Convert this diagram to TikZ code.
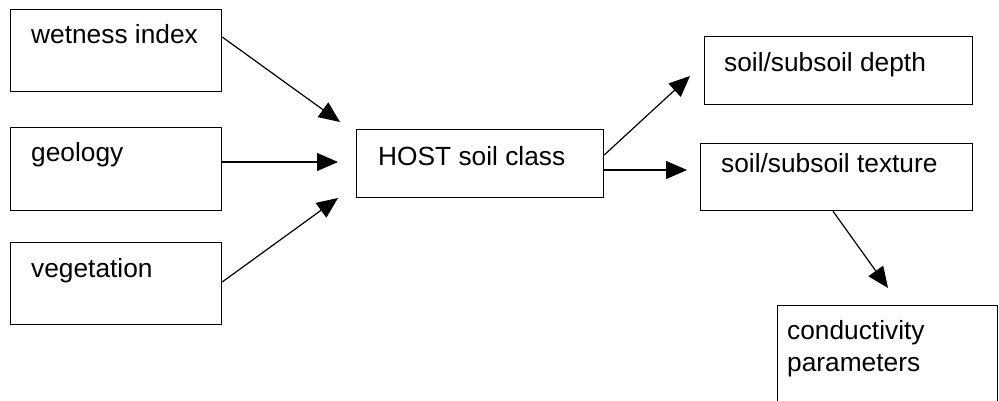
\documentclass[tikz,border=0pt]{standalone}
\usepackage{fontspec}
\setmainfont{Liberation Sans}
\usetikzlibrary{arrows.meta,calc}
\begin{document}
\begin{tikzpicture}[x=1pt,y=-1pt,
  box/.style={draw=black,line width=1.2pt,fill=none,inner sep=0pt,anchor=north west},
  lbl/.style={inner sep=0pt,anchor=base west,font=\fontsize{26.3}{30}\selectfont},
  conn/.style={line width=1.2pt,-{Triangle[length=21pt,width=18pt]}}]
\useasboundingbox (0,0) rectangle (999,401);
% boxes
\node[box,minimum width=211pt,minimum height=82pt] (w) at (10,9) {};
\node[box,minimum width=211pt,minimum height=83pt] (g) at (10,127) {};
\node[box,minimum width=211pt,minimum height=82pt] (v) at (10,242) {};
\node[box,minimum width=247pt,minimum height=68pt] (h) at (356,129) {};
\node[box,minimum width=268pt,minimum height=68pt] (d) at (704,36) {};
\node[box,minimum width=272pt,minimum height=67pt] (t) at (700,143) {};
\node[box,minimum width=220pt,minimum height=110pt] (c) at (777,305) {};
% labels
\node[lbl] (wl) at (31,44) {wetness index};
\node[lbl] (gl) at (31,162) {geology};
\node[lbl] (vl) at (31,277) {vegetation};
\node[lbl] (hl) at (378,165) {HOST soil class};
\node[lbl] (dl) at (724,72) {soil/subsoil depth};
\node[lbl] (tl) at (721,172) {soil/subsoil texture};
\node[lbl] (cl1) at (787,339) {conductivity};
\node[lbl] (cl2) at (787,371) {parameters};
% arrow ends
\coordinate (e1) at (340,122);
\coordinate (e2) at (338,162);
\coordinate (e3) at (338,198);
\coordinate (e4) at (690,76);
\coordinate (e5) at (687,170);
\coordinate (e6) at (888,288);
% connectors
\draw[conn] ($(w.north east)+(0,28)$) -- (e1);
\draw[conn] ($(g.north east)+(0,35)$) -- (e2);
\draw[conn] ($(v.north east)+(0,40)$) -- (e3);
\draw[conn] ($(h.north east)+(0,26)$) -- (e4);
\draw[conn] ($(h.north east)+(0,41)$) -- (e5);
\draw[conn] ($(t.south west)+(133,0)$) -- (e6);
\end{tikzpicture}
\end{document}
